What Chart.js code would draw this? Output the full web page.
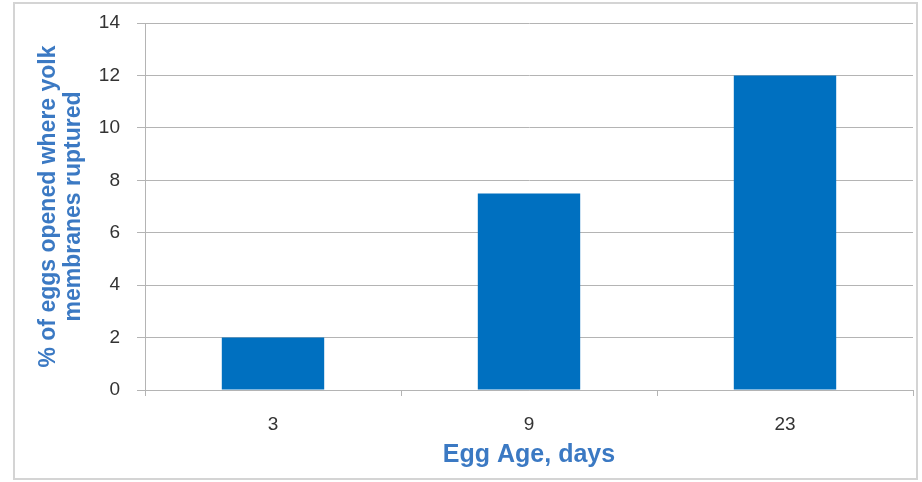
<!DOCTYPE html>
<html>
<head>
  <meta charset="utf-8">
  <title>Egg Age chart</title>
  <script src="https://cdn.jsdelivr.net/npm/chart.js"></script>
  <style>
    html, body { margin: 0; padding: 0; background: #fff; }
    #wrap { position: relative; width: 922px; height: 482px; }
    #frame { position: absolute; left: 13px; top: 2px; width: 905px; height: 478px; border: 2px solid #d4d4d4; box-sizing: border-box; pointer-events: none; }
    canvas { display: block; }
  </style>
</head>
<body>
  <div id="wrap">
    <canvas id="chart" width="922" height="482"></canvas>
    <div id="frame"></div>
  </div>

  <script>
    const categories = ['3', '9', '23'];
    const ruptured = [2, 7.5, 12];
    const yTicks = [0, 2, 4, 6, 8, 10, 12, 14];

    const blueTitle = '#3b79c3';
    const gridGray = '#b4b4b4';

    const ctx = document.getElementById('chart').getContext('2d');
    new Chart(ctx, {
      type: 'bar',
      data: {
        labels: categories,
        datasets: [{
          data: ruptured,
          backgroundColor: '#0070c0',
          barPercentage: 0.8,
          categoryPercentage: 0.5
        }]
      },
      options: {
        responsive: false,
        animation: false,
        layout: { padding: { left: 15, right: 9, top: 23, bottom: 0 } },
        plugins: { legend: { display: false }, tooltip: { enabled: false } },
        scales: {
          x: {
            offset: true,
            grid: { offset: true, drawOnChartArea: false, color: gridGray, tickLength: 6 },
            border: { color: gridGray, width: 1 },
            ticks: { color: '#333', padding: 17, font: { family: 'Liberation Sans, Arial', size: 19 } },
            title: {
              display: true, text: 'Egg Age, days', color: blueTitle,
              font: { family: 'Liberation Sans, Arial', size: 25, weight: 'bold' },
              padding: { top: 4, bottom: 12 }
            },
            afterFit: s => { s.height = 92; }
          },
          y: {
            min: 0, max: 14,
            afterBuildTicks: s => { s.ticks = yTicks.map(v => ({ value: v })); },
            grid: { color: gridGray, tickLength: 8 },
            border: { color: gridGray, width: 1 },
            ticks: { color: '#333', padding: 17, font: { family: 'Liberation Sans, Arial', size: 19 } },
            title: {
              display: true, text: ['% of eggs opened where yolk', 'membranes ruptured'], color: blueTitle,
              font: { family: 'Liberation Sans, Arial', size: 23, weight: 'bold', lineHeight: 1.1 },
              padding: { top: 21, bottom: 10 }
            },
            afterFit: s => { s.width = 130; s.paddingTop = 0; s.paddingBottom = 0; }
          }
        }
      }
    });
  </script>
</body>
</html>
